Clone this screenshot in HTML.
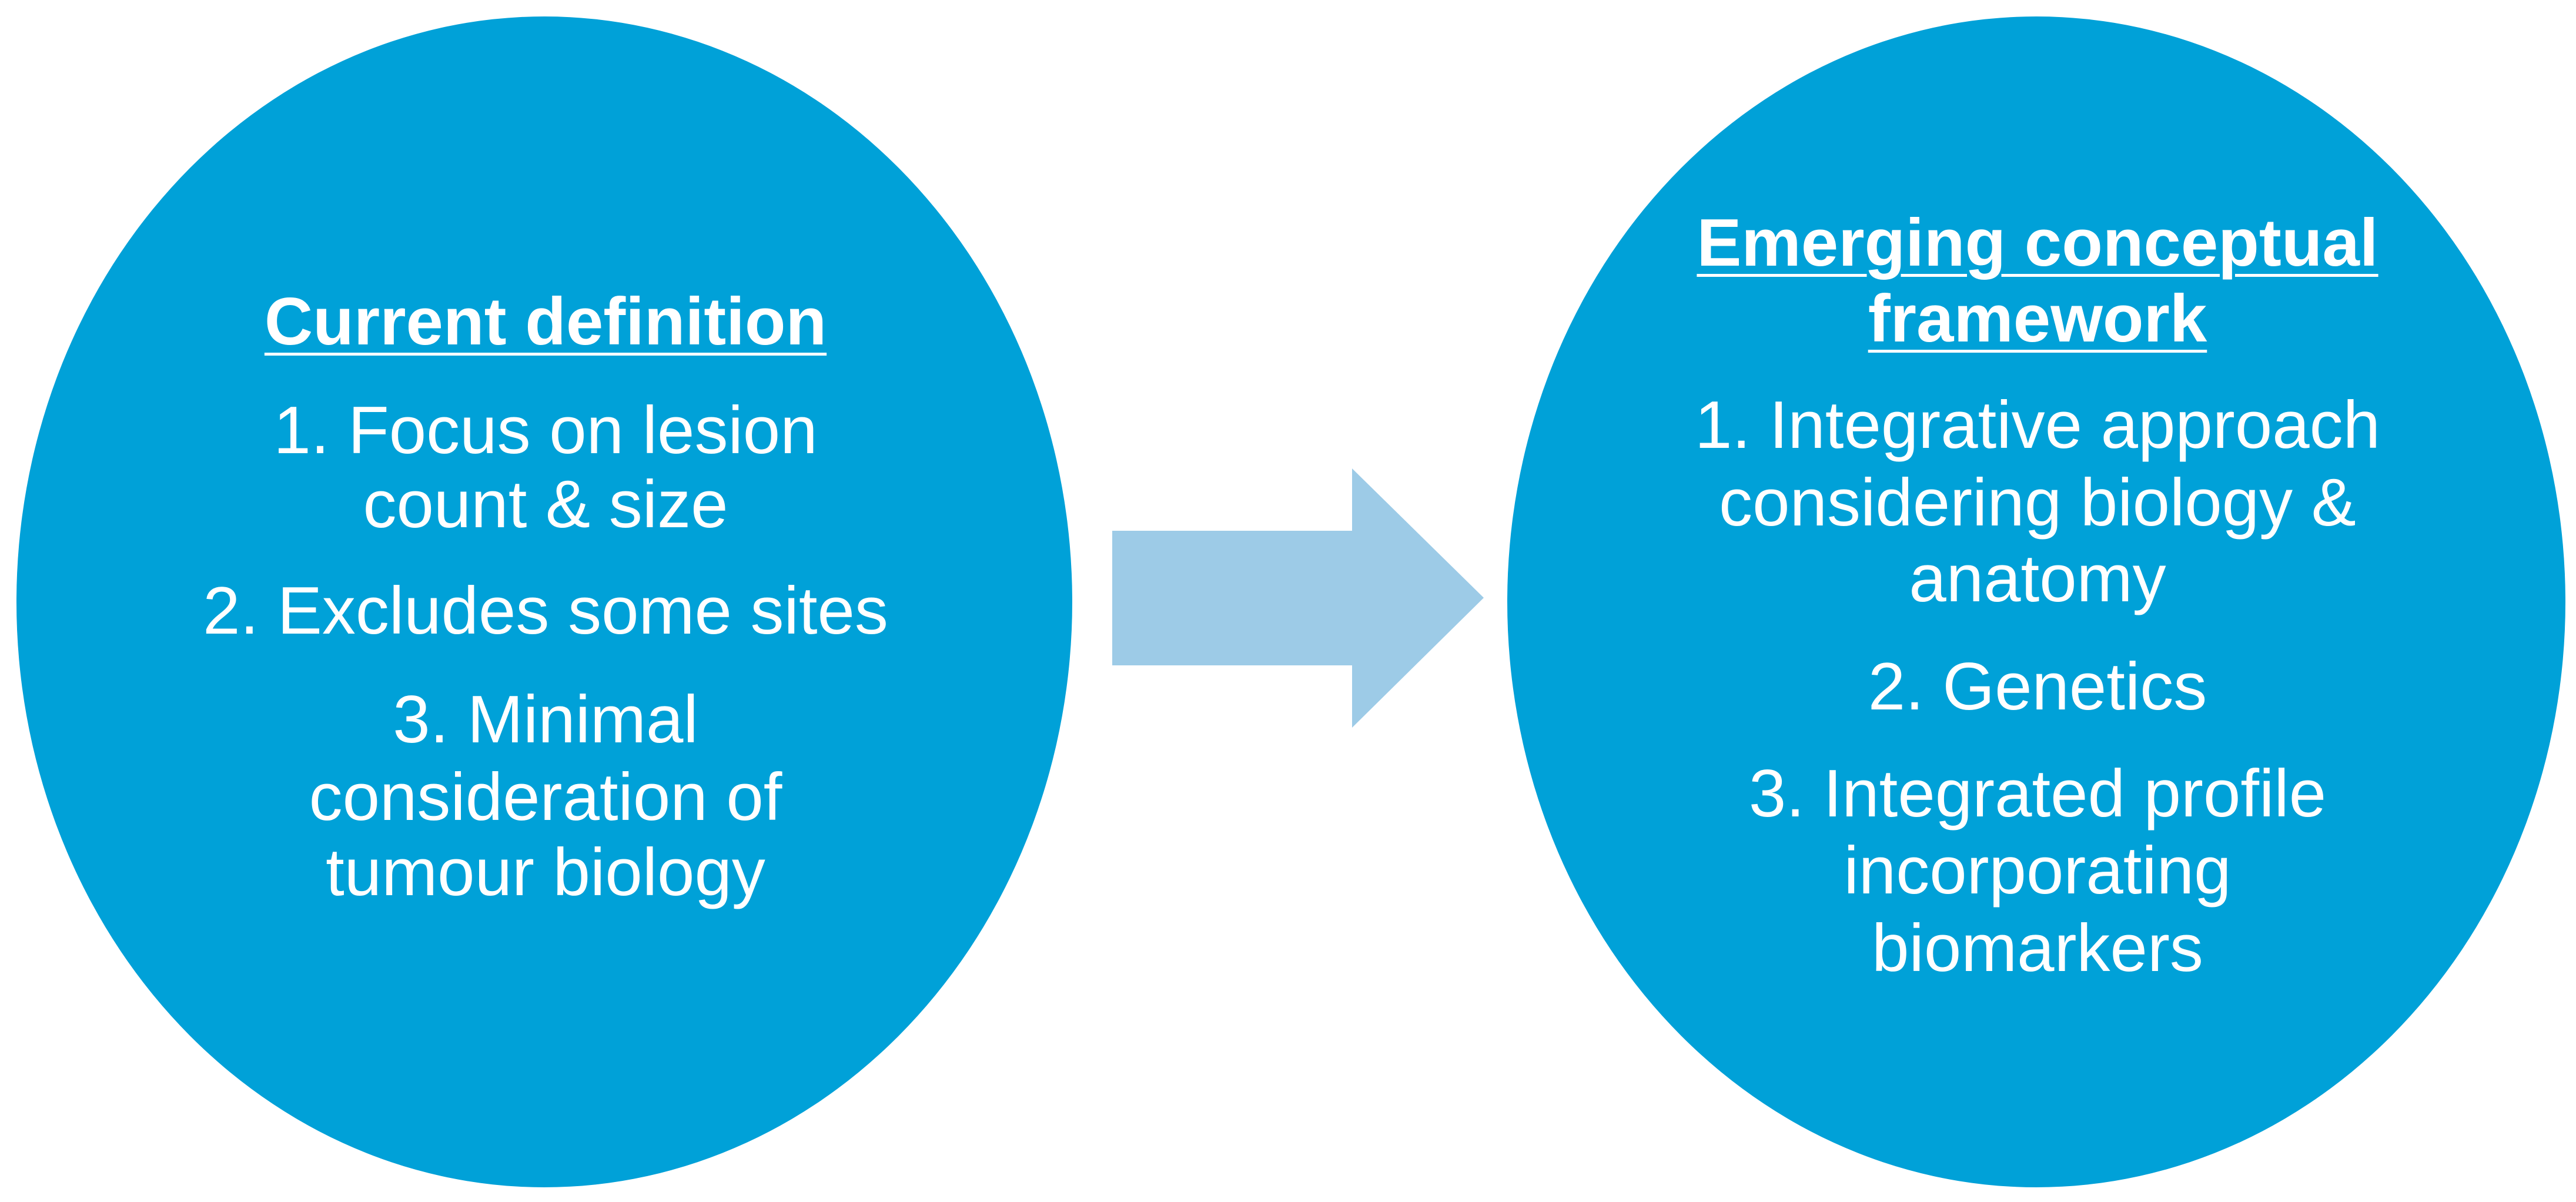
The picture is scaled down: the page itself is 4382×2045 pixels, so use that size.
<!DOCTYPE html>
<html><head><meta charset="utf-8"><style>
body{margin:0;width:4382px;height:2045px;background:#fff;position:relative;overflow:hidden;font-family:"Liberation Sans",sans-serif;}
.l{position:absolute;height:130px;line-height:130px;color:#fff;font-size:114px;white-space:nowrap;transform:translateX(-50%);text-align:center;}
.b{font-weight:bold;text-decoration:underline;text-decoration-thickness:5px;text-underline-offset:14px;}
</style></head><body>
<svg width="4382" height="2045" style="position:absolute;left:0;top:0">
<ellipse cx="926" cy="1024" rx="898" ry="996" fill="#00A1D8"/>
<ellipse cx="3464" cy="1024" rx="900" ry="996" fill="#00A1D8"/>
<polygon points="1892,903 2300,903 2300,797 2524,1017 2300,1238 2300,1132 1892,1132" fill="#9DCBE7"/>
</svg>
<div class="l b" style="left:928px;top:483px">Current definition</div>
<div class="l" style="left:928px;top:668px">1. Focus on lesion</div>
<div class="l" style="left:928px;top:794px">count &amp; size</div>
<div class="l" style="left:928px;top:975px">2. Excludes some sites</div>
<div class="l" style="left:928px;top:1160px">3. Minimal</div>
<div class="l" style="left:928px;top:1292px">consideration of</div>
<div class="l" style="left:928px;top:1420px">tumour biology</div>
<div class="l b" style="left:3466px;top:349px">Emerging conceptual</div>
<div class="l b" style="left:3466px;top:478px">framework</div>
<div class="l" style="left:3466px;top:659px">1. Integrative approach</div>
<div class="l" style="left:3466px;top:791px">considering biology &amp;</div>
<div class="l" style="left:3466px;top:920px">anatomy</div>
<div class="l" style="left:3466px;top:1104px">2. Genetics</div>
<div class="l" style="left:3466px;top:1286px">3. Integrated profile</div>
<div class="l" style="left:3466px;top:1417px">incorporating</div>
<div class="l" style="left:3466px;top:1549px">biomarkers</div>
</body></html>
